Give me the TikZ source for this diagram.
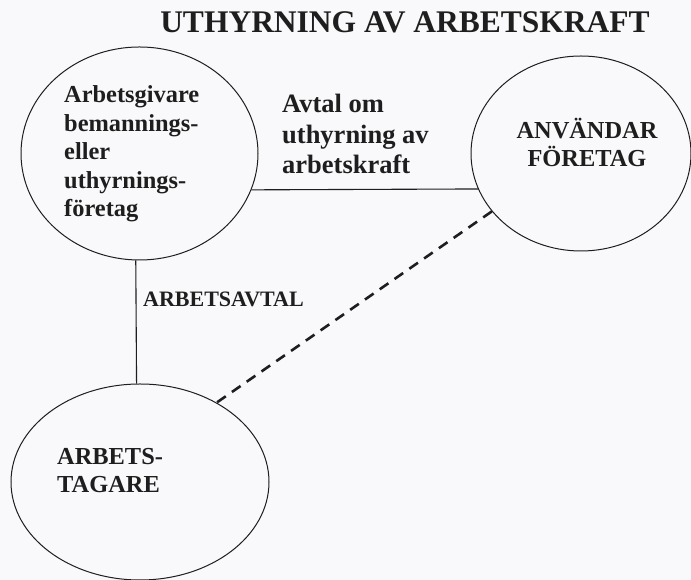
\documentclass[tikz,border=0pt]{standalone}
\usepackage{fontspec}
\setmainfont{Liberation Serif}
\usepackage{tikz}
\usetikzlibrary{shapes.geometric}
\definecolor{inkgray}{HTML}{1E1E1E}
\definecolor{paper}{HTML}{F9F9FB}

\begin{document}
\begin{tikzpicture}[
    x=1pt, y=1pt,
    font=\bfseries, text=inkgray,
    bubble/.style={ellipse, draw=inkgray, line width=1pt, inner sep=0pt},
    lbl/.style={inner sep=0pt, align=left, font=\fontsize{24.4}{28.5}\selectfont\bfseries},
    link/.style={draw=inkgray, line width=1.1pt},
    loose/.style={draw=inkgray, line width=2.6pt, dash pattern=on 10.5pt off 7.5pt}
  ]
    \fill[paper] (0,0) rectangle (691,580);
    \useasboundingbox (0,0) rectangle (691,580);
    \node[anchor=base, inner sep=0pt, font=\fontsize{31.5}{36}\selectfont\bfseries] (title) at (405,547) {UTHYRNING AV ARBETSKRAFT};

    % parties
    \node[bubble, minimum width=237pt, minimum height=213pt] (emp) at (139.5,426.5) {};
    \node[bubble, minimum width=220pt, minimum height=195pt] (user) at (581,426.5) {};
    \node[bubble, minimum width=258pt, minimum height=196pt] (worker) at (140,98) {};

    \node[lbl, anchor=base west] (emptxt) at (64,363) {Arbetsgivare\\bemannings-\\eller\\uthyrnings-\\företag};
    \node[lbl, anchor=base, align=center] (usertxt) at (587,413) {ANVÄNDAR\\FÖRETAG};
    \node[lbl, anchor=base west] (worktxt) at (57,87) {ARBETS-\\TAGARE};

    % agreements
    \node[lbl, anchor=base west, font=\fontsize{26.5}{30.5}\selectfont\bfseries] (deal) at (282,406) {Avtal om\\uthyrning av\\arbetskraft};
    \node[lbl, anchor=base west, font=\fontsize{22}{26}\selectfont\bfseries] (contract) at (143,273) {ARBETSAVTAL};

    \draw[link] (emp.342) -- (user.199);
    \draw[link] (emp.268) -- (worker.92);
    \draw[loose] (user.213) -- (worker.46);
\end{tikzpicture}
\end{document}
